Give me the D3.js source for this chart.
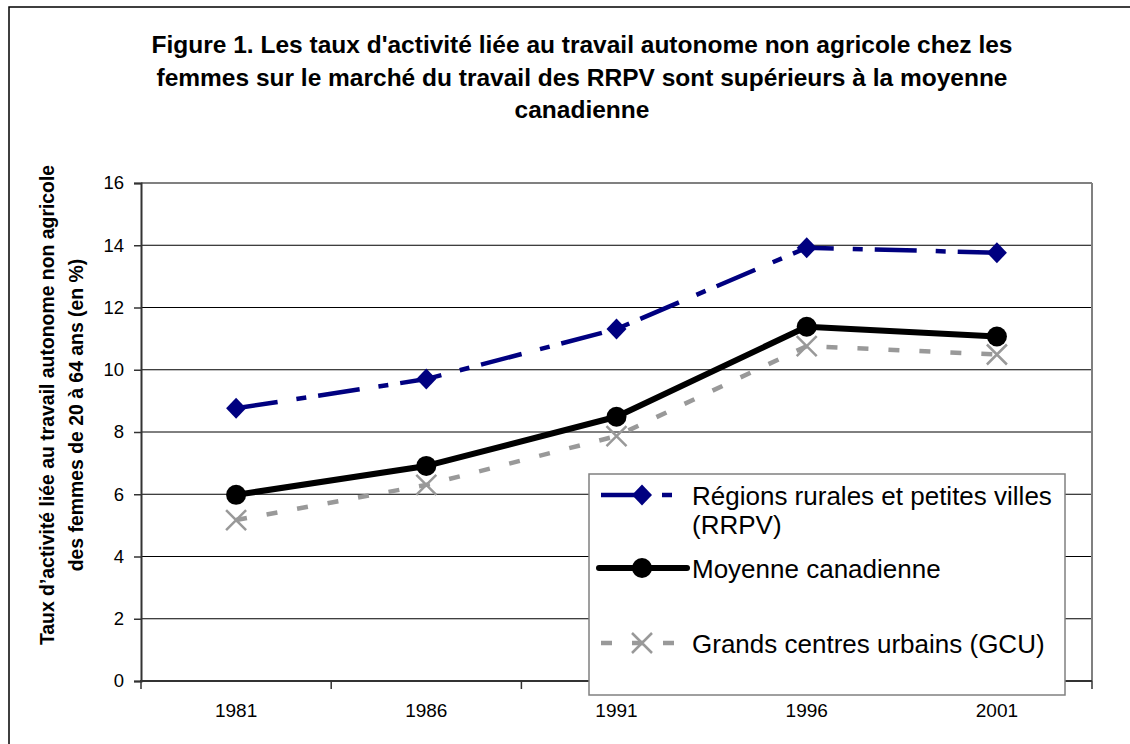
<!DOCTYPE html>
<html>
<head>
<meta charset="utf-8">
<script src="https://cdn.jsdelivr.net/npm/d3@7"></script>
<style>
  body { margin: 0; background: #fff; }
  svg { font-family: Arial, "Liberation Sans", sans-serif; display: block; }
</style>
</head>
<body>
<div id="chart"></div>
<script>
// donnees
const years = ["1981", "1986", "1991", "1996", "2001"];
const rrpv = [8.76, 9.7, 11.31, 13.92, 13.76];
const moyenne = [5.98, 6.91, 8.49, 11.38, 11.07];
const gcu = [5.17, 6.3, 7.87, 10.76, 10.49];
const yTicks = [0, 2, 4, 6, 8, 10, 12, 14, 16];

const titleLines = [
  "Figure 1. Les taux d'activité liée au travail autonome non agricole chez les",
  "femmes sur le marché du travail des RRPV sont supérieurs à la moyenne",
  "canadienne"
];
const yTitleLines = [
  "Taux d’activité liée au travail autonome non agricole",
  "des femmes de 20 à 64 ans (en %)"
];

const series = [
  { name: ["Régions rurales et petites villes", "(RRPV)"], values: rrpv, color: "#000080",
    width: 4.5, dash: "42,19,10,12", marker: "diamond", legendY: 495 },
  { name: ["Moyenne canadienne"], values: moyenne, color: "#000000",
    width: 6, dash: null, marker: "circle", legendY: 568 },
  { name: ["Grands centres urbains (GCU)"], values: gcu, color: "#999999",
    width: 4.5, dash: "11,20", marker: "cross", legendY: 643 }
];

const width = 1130, height = 744;
const plot = { left: 141, right: 1092, top: 183, bottom: 681 };

const svg = d3.select("#chart").append("svg")
  .attr("width", width).attr("height", height);

svg.append("rect").attr("width", width).attr("height", height).attr("fill", "#fff");

// cadre exterieur
svg.append("rect")
  .attr("x", 9).attr("y", 7)
  .attr("width", width + 20).attr("height", height + 20)
  .attr("fill", "none").attr("stroke", "#000").attr("stroke-width", 1.5);

// titre
svg.append("g").selectAll("text").data(titleLines).enter().append("text")
  .attr("x", 582)
  .attr("y", (d, i) => 53 + i * 32.5)
  .attr("text-anchor", "middle")
  .style("font-size", "24.5px").style("font-weight", "bold")
  .text(d => d);

// echelles
const x = d3.scaleBand().domain(years).range([plot.left, plot.right]);
const y = d3.scaleLinear().domain([0, 16]).range([plot.bottom, plot.top]);
const cx = d => x(d) + x.bandwidth() / 2;

// grille
svg.append("g").selectAll("line").data(yTicks.filter(t => t > 0)).enter().append("line")
  .attr("x1", plot.left).attr("x2", plot.right)
  .attr("y1", d => y(d)).attr("y2", d => y(d))
  .attr("stroke", d => d === 16 ? "#808080" : "#000")
  .attr("stroke-width", d => d === 16 ? 2 : 1);

// bord droit
svg.append("line")
  .attr("x1", plot.right).attr("x2", plot.right)
  .attr("y1", plot.top).attr("y2", plot.bottom)
  .attr("stroke", "#808080").attr("stroke-width", 2);

// axe y
const yAxis = svg.append("g")
  .attr("transform", `translate(${plot.left},0)`)
  .call(d3.axisLeft(y).tickValues(yTicks).tickSize(7).tickPadding(10));
yAxis.select(".domain").attr("stroke", "#333").attr("stroke-width", 2);
yAxis.selectAll(".tick line").attr("stroke", "#333").attr("stroke-width", 1.5);
yAxis.selectAll("text").style("font-size", "18.5px").attr("fill", "#000");

// axe x : etiquettes au centre, graduations entre les categories
const xAxis = svg.append("g")
  .attr("transform", `translate(0,${plot.bottom})`)
  .call(d3.axisBottom(x).tickSize(0).tickPadding(23));
xAxis.select(".domain").remove();
xAxis.selectAll("text").style("font-size", "19px").attr("fill", "#000");

svg.append("g").selectAll("line").data(years.concat(["end"])).enter().append("line")
  .attr("x1", d => d === "end" ? plot.right : x(d))
  .attr("x2", d => d === "end" ? plot.right : x(d))
  .attr("y1", plot.bottom).attr("y2", plot.bottom + 8)
  .attr("stroke", "#333").attr("stroke-width", 1.5);

svg.append("line")
  .attr("x1", plot.left - 1).attr("x2", plot.right)
  .attr("y1", plot.bottom).attr("y2", plot.bottom)
  .attr("stroke", "#333").attr("stroke-width", 2);

// titre axe y
svg.append("g").selectAll("text").data(yTitleLines).enter().append("text")
  .attr("transform", (d, i) => `translate(${54 + i * 29},${405 + i * 10}) rotate(-90)`)
  .attr("text-anchor", "middle")
  .style("font-size", "19.4px").style("font-weight", "bold")
  .text(d => d);

// marqueurs
function drawMarker(g, type, color, px, py) {
  if (type === "diamond") {
    g.append("path")
      .attr("d", `M${px},${py - 10.5}L${px + 10},${py}L${px},${py + 10.5}L${px - 10},${py}Z`)
      .attr("fill", color);
  } else if (type === "circle") {
    g.append("circle").attr("cx", px).attr("cy", py).attr("r", 10).attr("fill", color);
  } else {
    g.append("path")
      .attr("d", `M${px - 10},${py - 10}L${px + 10},${py + 10}M${px - 10},${py + 10}L${px + 10},${py - 10}`)
      .attr("stroke", color).attr("stroke-width", 2.5);
  }
}

const line = d3.line().x((d, i) => cx(years[i])).y(d => y(d));

// series (GCU en dessous)
series.slice().reverse().forEach(s => {
  const g = svg.append("g");
  g.append("path")
    .attr("d", line(s.values))
    .attr("fill", "none")
    .attr("stroke", s.color)
    .attr("stroke-width", s.width)
    .attr("stroke-dasharray", s.dash)
    .attr("stroke-linejoin", "round");
  s.values.forEach((v, i) => drawMarker(g, s.marker, s.color, cx(years[i]), y(v)));
});

// legende
const legend = svg.append("g");
legend.append("rect")
  .attr("x", 589).attr("y", 474)
  .attr("width", 476).attr("height", 221)
  .attr("fill", "#fff").attr("stroke", "#808080").attr("stroke-width", 1.5);

series.forEach(s => {
  const g = legend.append("g");
  const x0 = s.marker === "circle" ? 599 : 601;
  const x1 = s.marker === "circle" ? 687 : 680;
  g.append("line")
    .attr("x1", x0).attr("x2", x1)
    .attr("y1", s.legendY).attr("y2", s.legendY)
    .attr("stroke", s.color).attr("stroke-width", s.width)
    .attr("stroke-dasharray", s.dash)
    .attr("stroke-linecap", s.dash ? "butt" : "round");
  drawMarker(g, s.marker, s.color, 642, s.legendY);
  g.selectAll("text").data(s.name).enter().append("text")
    .attr("x", 692)
    .attr("y", (d, i) => s.legendY + 10 + i * 29)
    .style("font-size", "26px")
    .text(d => d);
});
</script>
</body>
</html>
